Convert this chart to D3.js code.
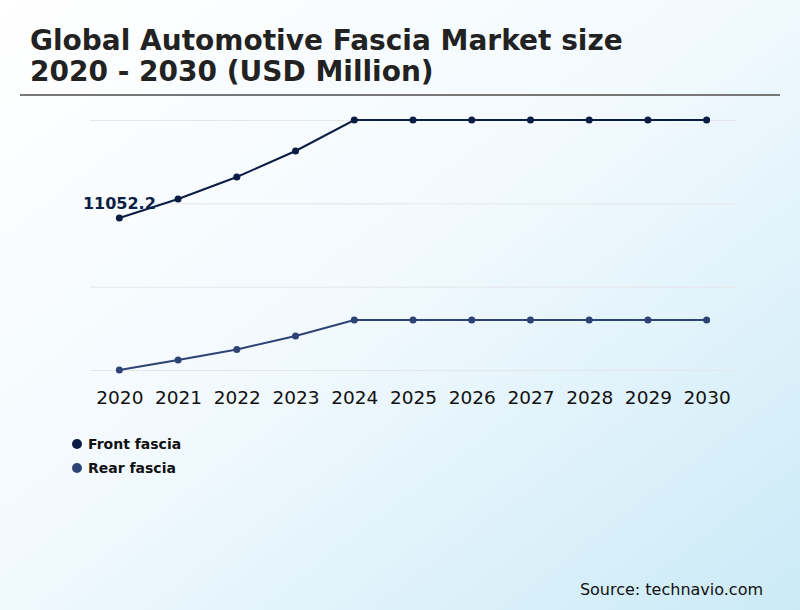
<!DOCTYPE html>
<html>
<head>
<meta charset="utf-8">
<script src="https://cdn.jsdelivr.net/npm/d3@7"></script>
<style>
  html, body { margin: 0; padding: 0; }
  body { width: 800px; height: 610px; overflow: hidden; font-family: "DejaVu Sans", sans-serif; }
</style>
</head>
<body>
<svg id="chart" width="800" height="610"></svg>
<script>
const years = ["2020", "2021", "2022", "2023", "2024", "2025", "2026", "2027", "2028", "2029", "2030"];
const frontFascia = [11052.2, 11622, 12282, 13062, 13992, 13992, 13992, 13992, 13992, 13992, 13992];
const rearFascia = [6492, 6792, 7107, 7512, 7992, 7992, 7992, 7992, 7992, 7992, 7992];
const yTicks = [6492, 8992, 11492, 13992];
const seriesNames = ["Front fascia", "Rear fascia"];

const COLORS = {
  "Front fascia": "#0c1d45",
  "Rear fascia": "#2d4375",
};

const svg = d3.select("#chart");

// background gradient
const defs = svg.append("defs");
const bg = defs.append("linearGradient").attr("id", "bg")
  .attr("x1", "0%").attr("y1", "0%").attr("x2", "100%").attr("y2", "100%");
bg.append("stop").attr("offset", "0%").attr("stop-color", "#ffffff");
bg.append("stop").attr("offset", "45%").attr("stop-color", "#f3fafe");
bg.append("stop").attr("offset", "100%").attr("stop-color", "#cbeaf7");
svg.append("rect").attr("width", 800).attr("height", 610).attr("fill", "url(#bg)");

// title
const title = svg.append("text")
  .attr("x", 30)
  .attr("font-size", 28)
  .attr("font-weight", "bold")
  .attr("fill", "#222");
title.append("tspan").attr("x", 30).attr("y", 50).text("Global Automotive Fascia Market size");
title.append("tspan").attr("x", 30).attr("y", 81).text("2020 - 2030 (USD Million)");

svg.append("line")
  .attr("x1", 20).attr("x2", 780)
  .attr("y1", 95).attr("y2", 95)
  .attr("stroke", "#777").attr("stroke-width", 2);

const x = d3.scalePoint().domain(years).range([90, 736]).padding(0.5);
const y = d3.scaleLinear().domain([yTicks[0], yTicks[yTicks.length - 1]]).range([370, 120]);

// gridlines
svg.append("g")
  .attr("transform", "translate(90,0)")
  .call(d3.axisLeft(y).tickValues(yTicks).tickSize(-646).tickFormat(""))
  .call((g) => g.select(".domain").remove())
  .call((g) => g.selectAll("line").attr("stroke", "#e4e6e8"));

// x axis
svg.append("g")
  .attr("transform", "translate(0,383)")
  .call(d3.axisBottom(x).tickSize(0).tickPadding(8))
  .call((g) => g.select(".domain").remove())
  .call((g) => g.selectAll("text")
    .attr("font-size", 18.5)
    .attr("font-family", "DejaVu Sans, sans-serif")
    .attr("fill", "#111"));

const data = { "Front fascia": frontFascia, "Rear fascia": rearFascia };

const line = d3.line()
  .x((_, i) => x(years[i]))
  .y((d) => y(d));

seriesNames.forEach((name) => {
  svg.append("path")
    .attr("fill", "none")
    .attr("stroke", COLORS[name])
    .attr("stroke-width", 2)
    .attr("d", line(data[name]));
  svg.selectAll(null)
    .data(data[name])
    .join("circle")
    .attr("cx", (_, i) => x(years[i]))
    .attr("cy", (d) => y(d))
    .attr("r", 3.5)
    .attr("fill", COLORS[name]);
});

// first value label
svg.append("text")
  .attr("x", x(years[0]))
  .attr("y", y(frontFascia[0]) - 9)
  .attr("text-anchor", "middle")
  .attr("font-size", 16)
  .attr("font-weight", "bold")
  .attr("fill", COLORS["Front fascia"])
  .text(frontFascia[0].toFixed(1));

// legend
const legend = svg.append("g").attr("transform", "translate(77,444)");
const items = legend.selectAll("g")
  .data(seriesNames)
  .join("g")
  .attr("transform", (_, i) => `translate(0,${i * 24})`);
items.append("circle").attr("r", 5).attr("fill", (d) => COLORS[d]);
items.append("text")
  .attr("x", 11)
  .attr("y", 5)
  .attr("font-size", 14)
  .attr("font-weight", "bold")
  .attr("fill", "#111")
  .text((d) => d);

// source
svg.append("text")
  .attr("x", 763)
  .attr("y", 595)
  .attr("text-anchor", "end")
  .attr("font-size", 16)
  .attr("fill", "#111")
  .text("Source: technavio.com");
</script>
</body>
</html>
